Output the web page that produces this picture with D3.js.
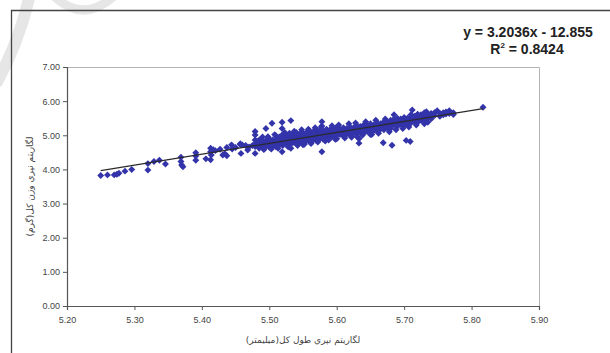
<!DOCTYPE html>
<html>
<head>
<meta charset="utf-8">
<script src="https://cdn.jsdelivr.net/npm/d3@7"></script>
<style>
  body { margin: 0; background: #fff; }
  svg { display: block; font-family: Arial, "Liberation Sans", sans-serif; }
</style>
</head>
<body>
<svg id="chart" width="610" height="353"></svg>
<script>
// natural log of total length (mm) and total weight (g)
var lengthLog = [
  5.250,5.260,5.270,5.274,5.277,5.286,5.296,5.320,5.320,5.329,5.337,5.346,5.369,5.369,5.370,5.372,
  5.391,5.391,5.391,5.406,5.413,5.413,5.414,5.413,5.417,5.420,5.427,5.431,5.434,5.437,5.437,5.444,
  5.445,5.450,5.457,5.457,5.458,5.460,5.465,5.468,5.470,5.475,5.479,5.479,5.479,5.479,5.479,5.480,
  5.482,5.485,5.488,5.490,
  5.485,5.485,5.485,5.485,5.490,5.490,5.490,5.490,5.495,5.495,5.495,5.495,5.500,5.500,5.500,5.500,
  5.505,5.505,5.505,5.504,5.510,5.510,5.510,5.510,5.510,5.515,5.515,5.515,5.515,
  5.519,5.519,5.519,5.519,5.519,5.520,5.520,5.520,5.520,5.525,5.525,5.525,5.525,
  5.530,5.530,5.530,5.530,5.530,5.532,5.532,5.535,5.535,5.535,5.535,
  5.540,5.540,5.540,5.540,5.540,5.545,5.545,5.545,5.545,5.550,5.550,5.550,5.550,5.550,
  5.555,5.555,5.555,5.555,5.560,5.560,5.560,5.560,5.560,5.565,5.565,5.565,5.565,
  5.570,5.570,5.570,5.570,5.570,5.575,5.575,5.575,5.575,5.578,5.578,5.578,5.583,
  5.580,5.580,5.580,5.580,5.585,5.585,5.585,5.585,5.590,5.590,5.590,5.590,5.595,5.595,5.595,5.595,
  5.600,5.600,5.600,5.600,5.600,5.605,5.605,5.605,5.610,5.610,5.610,5.610,5.615,5.615,5.615,
  5.620,5.620,5.620,5.620,5.625,5.625,5.625,5.630,5.630,5.630,5.630,5.630,5.633,5.633,
  5.635,5.635,5.635,5.640,5.640,5.640,5.640,5.645,5.645,5.645,
  5.650,5.650,5.650,5.650,5.650,5.655,5.655,5.655,5.660,5.660,5.660,5.660,5.665,5.665,5.665,5.669,
  5.670,5.670,5.670,5.670,5.675,5.675,5.675,5.680,5.680,5.680,5.680,5.682,5.685,5.685,5.685,5.685,
  5.690,5.690,5.690,5.690,5.695,5.695,5.695,5.700,5.700,5.700,5.700,5.703,5.705,5.705,5.705,5.709,
  5.710,5.710,5.710,5.710,5.712,5.715,5.715,5.715,5.720,5.720,5.720,5.720,5.725,5.725,5.725,
  5.730,5.730,5.730,5.730,5.730,5.733,5.735,5.735,5.735,5.740,5.740,5.740,5.745,5.745,5.749,
  5.753,5.753,5.758,5.758,5.762,5.762,5.767,5.767,5.773,5.773,5.817,
  5.492,5.498,5.503,5.508,5.513,5.523,5.528,5.537,5.542,5.548,5.552,5.558,5.562,5.568,5.572,5.577,
  5.588,5.593,5.598,5.603,5.612,5.618,5.622,5.628,5.638,5.643,5.652,5.658,5.662,5.672,5.678,5.688,
  5.698,5.707,5.718
];
var weightLog = [
  3.82,3.84,3.84,3.86,3.89,3.95,4.00,4.17,3.98,4.23,4.27,4.16,4.36,4.23,4.13,4.08,
  4.49,4.39,4.27,4.31,4.62,4.52,4.42,4.28,4.58,4.55,4.59,4.42,4.46,4.64,4.40,4.72,
  4.60,4.64,4.75,4.73,4.47,4.72,4.70,4.57,4.66,4.70,5.11,5.01,4.86,4.67,4.47,4.77,
  4.82,4.75,4.80,4.85,
  4.62,4.70,4.78,4.86,4.66,4.74,4.83,4.95,4.68,4.76,4.84,5.20,4.65,4.72,4.80,4.90,
  4.70,4.78,4.86,5.35,4.66,4.74,4.82,4.90,4.98,4.72,4.80,4.88,4.95,
  5.38,5.20,5.01,4.77,4.52,4.70,4.78,4.86,4.93,4.76,4.83,4.90,5.00,
  4.74,4.82,4.90,4.98,5.06,5.43,4.62,4.78,4.86,4.94,5.02,
  4.76,4.84,4.92,5.00,5.08,4.80,4.88,4.96,5.04,4.72,4.82,4.90,4.98,5.06,
  4.84,4.92,5.00,5.08,4.80,4.88,4.96,5.04,5.12,4.86,4.94,5.02,5.10,
  4.84,4.92,5.00,5.08,5.16,4.90,4.98,5.06,5.14,5.40,5.27,4.52,4.83,
  4.88,4.96,5.04,5.12,4.94,5.02,5.10,5.18,4.92,5.00,5.08,5.16,4.98,5.06,5.14,5.20,
  4.90,5.00,5.08,5.16,5.24,5.02,5.10,5.18,4.98,5.06,5.14,5.22,5.04,5.12,5.20,
  5.00,5.08,5.16,5.24,5.06,5.14,5.22,4.96,5.04,5.12,5.20,5.28,4.77,4.90,
  5.10,5.18,5.26,5.06,5.14,5.22,5.30,5.12,5.20,5.28,
  5.02,5.10,5.18,5.26,5.34,5.14,5.22,5.30,5.12,5.20,5.28,5.36,5.18,5.26,5.34,4.78,
  5.16,5.24,5.32,5.40,5.22,5.30,5.38,5.20,5.28,5.36,5.44,4.71,5.60,5.30,5.38,5.48,
  5.26,5.34,5.42,5.50,5.32,5.40,5.48,5.28,5.36,5.44,5.52,4.85,5.34,5.42,5.50,4.82,
  5.36,5.44,5.52,5.60,5.74,5.40,5.48,5.56,5.38,5.46,5.54,5.62,5.44,5.52,5.60,
  5.34,5.42,5.50,5.58,5.66,5.69,5.38,5.52,5.60,5.48,5.56,5.64,5.58,5.66,5.72,
  5.64,5.56,5.60,5.66,5.62,5.68,5.72,5.64,5.66,5.61,5.82,
  4.58,4.96,4.60,5.02,4.62,5.08,4.66,5.12,4.70,5.16,4.74,5.18,4.76,5.22,4.80,5.24,
  4.86,5.28,4.88,5.30,4.92,5.34,4.94,5.36,5.00,5.40,5.02,5.44,5.06,5.48,5.10,5.16,
  5.20,5.24,5.30
];
var xTicks = [5.2, 5.3, 5.4, 5.5, 5.6, 5.7, 5.8, 5.9];
var yTicks = [0, 1, 2, 3, 4, 5, 6, 7];
var trendSlope = 3.2036, trendIntercept = -12.855;
var trendRange = [5.25, 5.817];
var equationText = "y = 3.2036x - 12.855";
var r2Text = "0.8424";
var xTitle = "لگاريتم نپري طول کل(ميليمتر)";
var yTitle = "لگاريتم نپري وزن کل(گرم)";

var svg = d3.select("#chart");

// faint watermark in the corner
svg.append("path")
  .attr("d", "M30,-6 Q20,40 -4,84")
  .style("fill", "none").style("stroke", "#e6e6e6").style("stroke-width", 12);
svg.append("path")
  .attr("d", "M54,-4 Q83,24 114,-4")
  .style("fill", "none").style("stroke", "#e6e6e6").style("stroke-width", 9);

// outer frame
svg.append("path")
  .attr("d", "M11.5,353 L11.5,10.5 L610,10.5")
  .style("fill", "none").style("stroke", "#444").style("stroke-width", 1.3);

var margin = {top: 67, right: 71, bottom: 47, left: 67},
    width = 610 - margin.left - margin.right,
    height = 353 - margin.top - margin.bottom;

var x = d3.scaleLinear().domain([5.2, 5.9]).range([0, width]);
var y = d3.scaleLinear().domain([0, 7]).range([height, 0]);

var g = svg.append("g")
  .attr("transform", "translate(" + margin.left + "," + margin.top + ")");

// light border top and right
g.append("path")
  .attr("d", "M0,0.5 L" + (width + 0.5) + ",0.5 L" + (width + 0.5) + "," + height)
  .style("fill", "none").style("stroke", "#b4b4b4").style("stroke-width", 1);

var xAxis = g.append("g")
  .attr("transform", "translate(0," + height + ")")
  .call(d3.axisBottom(x).tickValues(xTicks).tickSize(4).tickPadding(7).tickFormat(d3.format(".2f")));
var yAxis = g.append("g")
  .call(d3.axisLeft(y).tickValues(yTicks).tickSize(4).tickPadding(3).tickFormat(d3.format(".2f")));

[xAxis, yAxis].forEach(function(a) {
  a.select(".domain").style("stroke", "#555").style("stroke-width", 1.2);
  a.selectAll(".tick line").style("stroke", "#555");
  a.selectAll("text").style("font-size", "9px").style("fill", "#444")
    .style("font-family", "Arial, 'Liberation Sans', sans-serif");
});

// diamond markers
var diamond = {
  draw: function(context, size) {
    var r = Math.sqrt(size / 2);
    context.moveTo(0, -r);
    context.lineTo(r, 0);
    context.lineTo(0, r);
    context.lineTo(-r, 0);
    context.closePath();
  }
};
var points = lengthLog.map(function(d, i) { return {x: d, y: weightLog[i]}; });

g.selectAll(".pt")
  .data(points)
  .enter().append("path")
  .attr("class", "pt")
  .attr("transform", function(d) { return "translate(" + x(d.x) + "," + y(d.y) + ")"; })
  .attr("d", d3.symbol().type(diamond).size(24))
  .style("fill", "#3333aa");

// linear trendline
var line = d3.line()
  .x(function(d) { return x(d); })
  .y(function(d) { return y(trendSlope * d + trendIntercept); });
g.append("path")
  .datum(trendRange)
  .attr("d", line)
  .style("fill", "none").style("stroke", "#2a2a2a").style("stroke-width", 1.2);

// equation label
svg.append("text")
  .attr("x", 528).attr("y", 37)
  .attr("text-anchor", "middle")
  .style("font-size", "14px").style("font-weight", "bold").style("fill", "#222")
  .text(equationText);
var r2 = svg.append("text")
  .attr("x", 527).attr("y", 54)
  .attr("text-anchor", "middle")
  .style("font-size", "14px").style("font-weight", "bold").style("fill", "#222");
r2.append("tspan").text("R");
r2.append("tspan").attr("dy", -6).style("font-size", "8px").text("2");
r2.append("tspan").attr("dy", 6).text(" = " + r2Text);

// axis titles
svg.append("text")
  .attr("x", margin.left + width / 2).attr("y", 343)
  .attr("text-anchor", "middle").attr("direction", "rtl")
  .style("font-size", "9px").style("fill", "#444")
  .style("font-family", "'DejaVu Sans', sans-serif")
  .text(xTitle);
svg.append("text")
  .attr("transform", "translate(33," + (margin.top + height / 2) + ") rotate(-90)")
  .attr("text-anchor", "middle").attr("direction", "rtl")
  .style("font-size", "9px").style("fill", "#444")
  .style("font-family", "'DejaVu Sans', sans-serif")
  .text(yTitle);
</script>
</body>
</html>
